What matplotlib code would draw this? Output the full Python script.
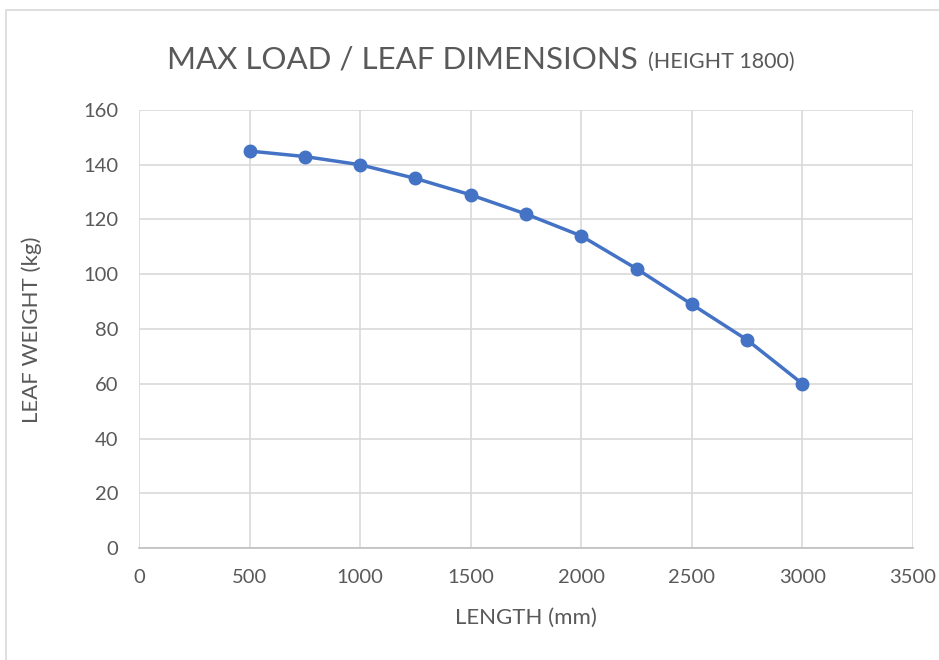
import matplotlib.pyplot as plt
from matplotlib.patches import Rectangle

plt.rcParams['font.family'] = ['Lato', 'DejaVu Sans']

# data
length = [500, 750, 1000, 1250, 1500, 1750, 2000, 2250, 2500, 2750, 3000]
weight = [145, 143, 140, 135, 129, 122, 114, 102, 89, 76, 60]
x_ticks = [0, 500, 1000, 1500, 2000, 2500, 3000, 3500]
y_ticks = [0, 20, 40, 60, 80, 100, 120, 140, 160]

blue = '#4472C4'
grid = '#D9D9D9'
txt = '#595959'

W, H = 939, 660
fig = plt.figure(figsize=(W / 100, H / 100), dpi=100)
fig.patch.set_facecolor('white')

# chart area border (cropped at right/bottom)
fig.patches.append(Rectangle((6 / W, -0.05), 1.0, 1.05 - 10 / H, transform=fig.transFigure,
                             fill=False, edgecolor=grid, linewidth=1.2))

ax = fig.add_axes([139 / W, (H - 548) / H, (913 - 139) / W, (548 - 110) / H])
ax.plot(length, weight, color=blue, linewidth=2.5, marker='o', markersize=9,
        markerfacecolor=blue, markeredgecolor=blue, zorder=3, clip_on=False)

ax.set_xlim(0, 3500)
ax.set_ylim(0, 160)
ax.set_xticks(x_ticks)
ax.set_yticks(y_ticks)
ax.grid(True, color=grid, linewidth=1.2)
ax.set_axisbelow(True)
for s in ['top', 'right', 'left']:
    ax.spines[s].set_visible(False)
ax.spines['bottom'].set_color('#BFBFBF')
ax.spines['bottom'].set_linewidth(1.2)
ax.tick_params(length=0, labelsize=14.5, colors=txt)
ax.tick_params(axis='x', pad=15)
ax.tick_params(axis='y', pad=15)

# axis titles
fig.text(526 / W, 1 - 618 / H, 'LENGTH (mm)', fontsize=16, color=txt,
         ha='center', va='center')
fig.text(32 / W, 1 - 330 / H, 'LEAF WEIGHT (kg)', fontsize=16, color=txt,
         ha='center', va='center', rotation=90)

# two-part title
t1 = fig.text(167 / W, 1 - 68 / H, 'MAX LOAD / LEAF DIMENSIONS', fontsize=22.5,
              color=txt, ha='left', va='baseline')
fig.canvas.draw()
bb = t1.get_window_extent()
fig.text(bb.x1 / W + 10 / W, 1 - 68 / H, '(HEIGHT 1800)', fontsize=15.5,
         color=txt, ha='left', va='baseline')

fig.savefig('out.png', dpi=100)
